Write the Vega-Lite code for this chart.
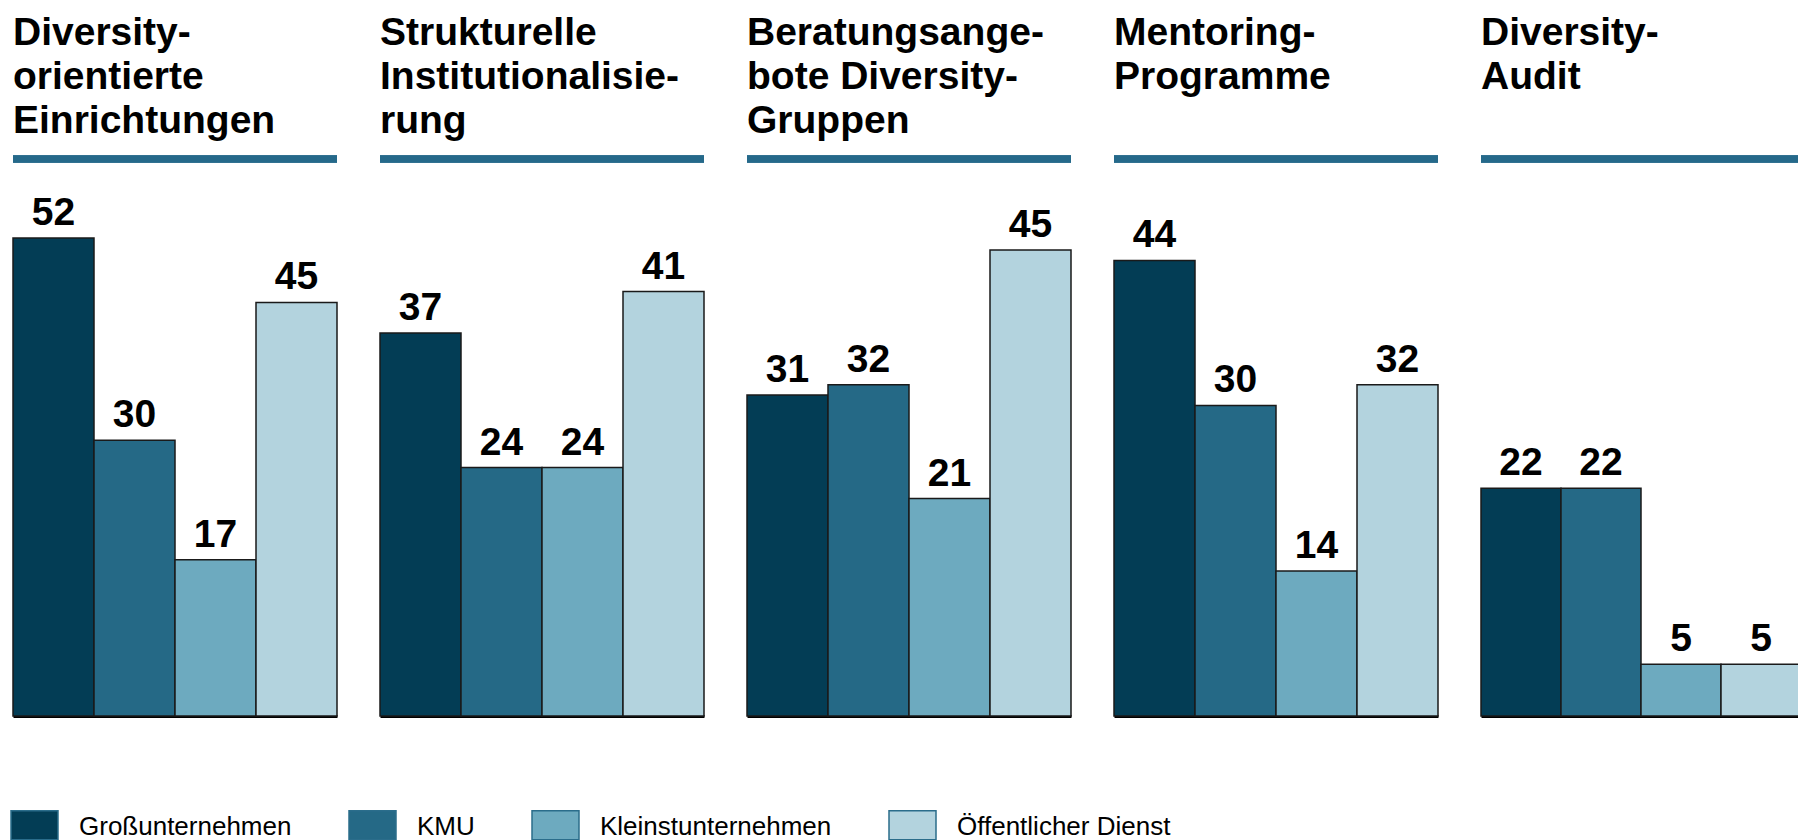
{
  "$schema": "https://vega.github.io/schema/vega-lite/v6.json",
  "padding": {"left": 9, "top": 13, "right": 0, "bottom": 0},
  "background": "white",
  "data": {"values": [
    {"cat": "c1", "group": "Großunternehmen", "value": 52},
    {"cat": "c1", "group": "KMU", "value": 30},
    {"cat": "c1", "group": "Kleinstunternehmen", "value": 17},
    {"cat": "c1", "group": "Öffentlicher Dienst", "value": 45},
    {"cat": "c2", "group": "Großunternehmen", "value": 37},
    {"cat": "c2", "group": "KMU", "value": 24},
    {"cat": "c2", "group": "Kleinstunternehmen", "value": 24},
    {"cat": "c2", "group": "Öffentlicher Dienst", "value": 41},
    {"cat": "c3", "group": "Großunternehmen", "value": 31},
    {"cat": "c3", "group": "KMU", "value": 32},
    {"cat": "c3", "group": "Kleinstunternehmen", "value": 21},
    {"cat": "c3", "group": "Öffentlicher Dienst", "value": 45},
    {"cat": "c4", "group": "Großunternehmen", "value": 44},
    {"cat": "c4", "group": "KMU", "value": 30},
    {"cat": "c4", "group": "Kleinstunternehmen", "value": 14},
    {"cat": "c4", "group": "Öffentlicher Dienst", "value": 32},
    {"cat": "c5", "group": "Großunternehmen", "value": 22},
    {"cat": "c5", "group": "KMU", "value": 22},
    {"cat": "c5", "group": "Kleinstunternehmen", "value": 5},
    {"cat": "c5", "group": "Öffentlicher Dienst", "value": 5}
  ]},
  "spacing": 43,
  "bounds": "flush",
  "config": {
    "view": {"stroke": null},
    "font": "Liberation Sans",
    "title": {"anchor": "start", "frame": "group", "font": "Liberation Sans", "fontSize": 39, "fontWeight": "bold", "lineHeight": 44, "color": "#000000", "offset": 15},
    "axisX": {"domain": true, "domainColor": "#000000", "domainWidth": 3, "ticks": false, "labels": false, "title": null, "grid": false},
    "legend": {"orient": "none", "legendX": -3, "legendY": 643, "direction": "horizontal", "columns": 4,
      "symbolType": "M-1,-0.68H1V0.55H-1Z", "symbolSize": 2209, "symbolStrokeColor": "#2b6d8b", "symbolStrokeWidth": 1.5, "symbolOpacity": 1,
      "labelFont": "Liberation Sans", "labelFontSize": 26, "labelColor": "#000000", "labelOffset": 20, "columnPadding": 54, "labelLimit": 400}
  },
  "hconcat": [
    {
      "width": 324, "height": 557,
      "title": {"text": ["Diversity-", "orientierte", "Einrichtungen"]},
      "transform": [{"filter": "datum.cat === 'c1'"}],
      "layer": [
        {"mark": {"type": "bar", "stroke": "#1a1a1a", "strokeWidth": 1.5},
         "encoding": {
           "x": {"field": "group", "type": "nominal", "sort": null, "scale": {"paddingInner": 0, "paddingOuter": 0}},
           "y": {"field": "value", "type": "quantitative", "scale": {"domain": [0, 60.6], "nice": false, "zero": true}, "axis": null},
           "color": {"field": "group", "type": "nominal", "title": null, "sort": null,
             "scale": {"domain": ["Großunternehmen", "KMU", "Kleinstunternehmen", "Öffentlicher Dienst"], "range": ["#033d55", "#256986", "#6daabf", "#b3d3de"]},
             "legend": {"symbolType": "M-1,-0.68H1V0.55H-1Z"}}
         }},
        {"mark": {"type": "text", "dy": -13, "baseline": "alphabetic", "fontSize": 39, "fontWeight": "bold", "color": "#000000"},
         "encoding": {
           "x": {"field": "group", "type": "nominal", "sort": null, "scale": {"paddingInner": 0, "paddingOuter": 0}},
           "y": {"field": "value", "type": "quantitative", "axis": null},
           "text": {"field": "value", "type": "quantitative"}
         }},
        {"mark": {"type": "rule", "strokeWidth": 7, "color": "#25698a"},
         "encoding": {"y": {"datum": 60.6, "type": "quantitative"}}}
      ]
    },
    {
      "width": 324, "height": 557,
      "title": {"text": ["Strukturelle", "Institutionalisie-", "rung"]},
      "transform": [{"filter": "datum.cat === 'c2'"}],
      "layer": [
        {"mark": {"type": "bar", "stroke": "#1a1a1a", "strokeWidth": 1.5},
         "encoding": {
           "x": {"field": "group", "type": "nominal", "sort": null, "scale": {"paddingInner": 0, "paddingOuter": 0}},
           "y": {"field": "value", "type": "quantitative", "scale": {"domain": [0, 53.8], "nice": false, "zero": true}, "axis": null},
           "color": {"field": "group", "type": "nominal", "title": null, "sort": null,
             "scale": {"domain": ["Großunternehmen", "KMU", "Kleinstunternehmen", "Öffentlicher Dienst"], "range": ["#033d55", "#256986", "#6daabf", "#b3d3de"]},
             "legend": {"symbolType": "M-1,-0.68H1V0.55H-1Z"}}
         }},
        {"mark": {"type": "text", "dy": -13, "baseline": "alphabetic", "fontSize": 39, "fontWeight": "bold", "color": "#000000"},
         "encoding": {
           "x": {"field": "group", "type": "nominal", "sort": null, "scale": {"paddingInner": 0, "paddingOuter": 0}},
           "y": {"field": "value", "type": "quantitative", "axis": null},
           "text": {"field": "value", "type": "quantitative"}
         }},
        {"mark": {"type": "rule", "strokeWidth": 7, "color": "#25698a"},
         "encoding": {"y": {"datum": 53.8, "type": "quantitative"}}}
      ]
    },
    {
      "width": 324, "height": 557,
      "title": {"text": ["Beratungsange-", "bote Diversity-", "Gruppen"]},
      "transform": [{"filter": "datum.cat === 'c3'"}],
      "layer": [
        {"mark": {"type": "bar", "stroke": "#1a1a1a", "strokeWidth": 1.5},
         "encoding": {
           "x": {"field": "group", "type": "nominal", "sort": null, "scale": {"paddingInner": 0, "paddingOuter": 0}},
           "y": {"field": "value", "type": "quantitative", "scale": {"domain": [0, 53.8], "nice": false, "zero": true}, "axis": null},
           "color": {"field": "group", "type": "nominal", "title": null, "sort": null,
             "scale": {"domain": ["Großunternehmen", "KMU", "Kleinstunternehmen", "Öffentlicher Dienst"], "range": ["#033d55", "#256986", "#6daabf", "#b3d3de"]},
             "legend": {"symbolType": "M-1,-0.68H1V0.55H-1Z"}}
         }},
        {"mark": {"type": "text", "dy": -13, "baseline": "alphabetic", "fontSize": 39, "fontWeight": "bold", "color": "#000000"},
         "encoding": {
           "x": {"field": "group", "type": "nominal", "sort": null, "scale": {"paddingInner": 0, "paddingOuter": 0}},
           "y": {"field": "value", "type": "quantitative", "axis": null},
           "text": {"field": "value", "type": "quantitative"}
         }},
        {"mark": {"type": "rule", "strokeWidth": 7, "color": "#25698a"},
         "encoding": {"y": {"datum": 53.8, "type": "quantitative"}}}
      ]
    },
    {
      "width": 324, "height": 557,
      "title": {"text": ["Mentoring-", "Programme", " "]},
      "transform": [{"filter": "datum.cat === 'c4'"}],
      "layer": [
        {"mark": {"type": "bar", "stroke": "#1a1a1a", "strokeWidth": 1.5},
         "encoding": {
           "x": {"field": "group", "type": "nominal", "sort": null, "scale": {"paddingInner": 0, "paddingOuter": 0}},
           "y": {"field": "value", "type": "quantitative", "scale": {"domain": [0, 53.8], "nice": false, "zero": true}, "axis": null},
           "color": {"field": "group", "type": "nominal", "title": null, "sort": null,
             "scale": {"domain": ["Großunternehmen", "KMU", "Kleinstunternehmen", "Öffentlicher Dienst"], "range": ["#033d55", "#256986", "#6daabf", "#b3d3de"]},
             "legend": {"symbolType": "M-1,-0.68H1V0.55H-1Z"}}
         }},
        {"mark": {"type": "text", "dy": -13, "baseline": "alphabetic", "fontSize": 39, "fontWeight": "bold", "color": "#000000"},
         "encoding": {
           "x": {"field": "group", "type": "nominal", "sort": null, "scale": {"paddingInner": 0, "paddingOuter": 0}},
           "y": {"field": "value", "type": "quantitative", "axis": null},
           "text": {"field": "value", "type": "quantitative"}
         }},
        {"mark": {"type": "rule", "strokeWidth": 7, "color": "#25698a"},
         "encoding": {"y": {"datum": 53.8, "type": "quantitative"}}}
      ]
    },
    {
      "width": 320, "height": 557,
      "title": {"text": ["Diversity-", "Audit", " "]},
      "transform": [{"filter": "datum.cat === 'c5'"}],
      "layer": [
        {"mark": {"type": "bar", "stroke": "#1a1a1a", "strokeWidth": 1.5},
         "encoding": {
           "x": {"field": "group", "type": "nominal", "sort": null, "scale": {"paddingInner": 0, "paddingOuter": 0}},
           "y": {"field": "value", "type": "quantitative", "scale": {"domain": [0, 53.8], "nice": false, "zero": true}, "axis": null},
           "color": {"field": "group", "type": "nominal", "title": null, "sort": null,
             "scale": {"domain": ["Großunternehmen", "KMU", "Kleinstunternehmen", "Öffentlicher Dienst"], "range": ["#033d55", "#256986", "#6daabf", "#b3d3de"]},
             "legend": {"symbolType": "M-1,-0.68H1V0.55H-1Z"}}
         }},
        {"mark": {"type": "text", "dy": -13, "baseline": "alphabetic", "fontSize": 39, "fontWeight": "bold", "color": "#000000"},
         "encoding": {
           "x": {"field": "group", "type": "nominal", "sort": null, "scale": {"paddingInner": 0, "paddingOuter": 0}},
           "y": {"field": "value", "type": "quantitative", "axis": null},
           "text": {"field": "value", "type": "quantitative"}
         }},
        {"mark": {"type": "rule", "strokeWidth": 7, "color": "#25698a"},
         "encoding": {"y": {"datum": 53.8, "type": "quantitative"}}}
      ]
    }
  ]
}
